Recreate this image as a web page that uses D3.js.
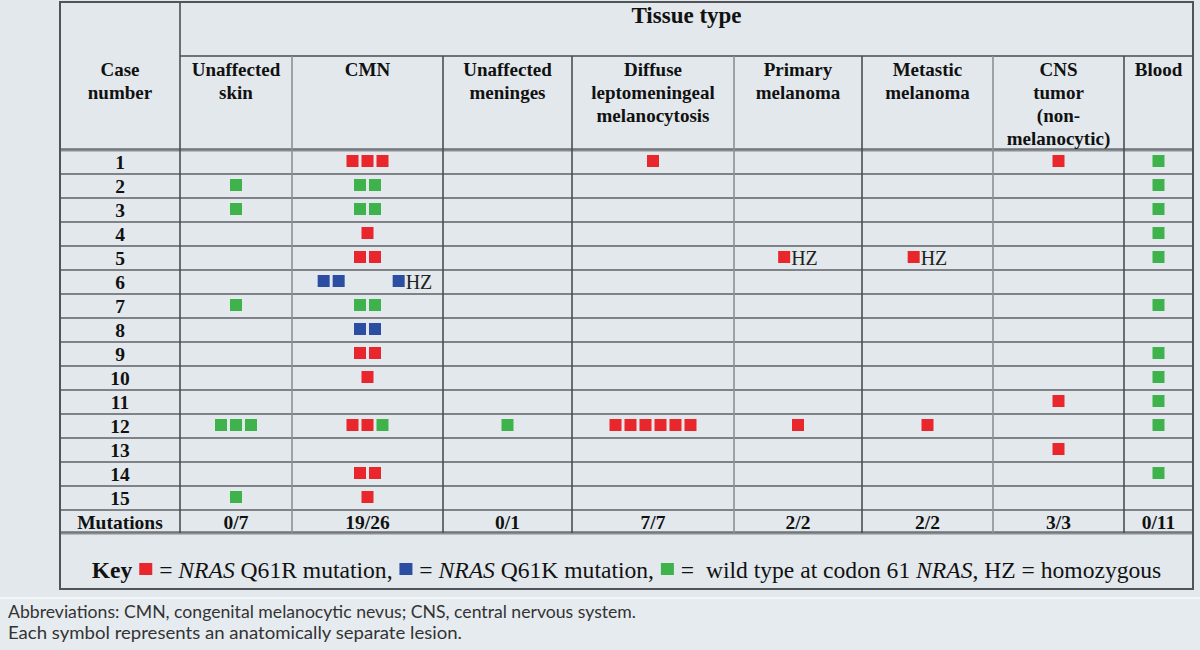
<!DOCTYPE html>
<html><head><meta charset="utf-8">
<script src="https://cdn.jsdelivr.net/npm/d3@7"></script>
<style>html,body{margin:0;padding:0;background:#e2e8ec;} svg{display:block;}</style>
</head><body><svg id="c" width="1200" height="650"></svg>
<script>
// ---------------- data ----------------
const tissueTitle = "Tissue type";
const caseHeader = ["Case", "number"];
const tissues = ["Unaffected skin", "CMN", "Unaffected meninges", "Diffuse leptomeningeal melanocytosis",
  "Primary melanoma", "Metastic melanoma", "CNS tumor (non-melanocytic)", "Blood"];
const tissueHeaderLines = [["Unaffected", "skin"], ["CMN"], ["Unaffected", "meninges"],
  ["Diffuse", "leptomeningeal", "melanocytosis"], ["Primary", "melanoma"], ["Metastic", "melanoma"],
  ["CNS", "tumor", "(non-", "melanocytic)"], ["Blood"]];
const cases = ["1","2","3","4","5","6","7","8","9","10","11","12","13","14","15"];
const mutationLabel = "Mutations";
const mutationTotals = ["0/7", "19/26", "0/1", "7/7", "2/2", "2/2", "3/3", "0/11"];
// lesion codes: R = NRAS Q61R, K = NRAS Q61K, W = wild type, _ = blank slot; last field = homozygous (HZ)
const lesions = [
  ["1", "CMN", "RRR", false], ["1", "Diffuse leptomeningeal melanocytosis", "R", false],
  ["1", "CNS tumor (non-melanocytic)", "R", false], ["1", "Blood", "W", false],
  ["2", "Unaffected skin", "W", false], ["2", "CMN", "WW", false], ["2", "Blood", "W", false],
  ["3", "Unaffected skin", "W", false], ["3", "CMN", "WW", false], ["3", "Blood", "W", false],
  ["4", "CMN", "R", false], ["4", "Blood", "W", false],
  ["5", "CMN", "RR", false], ["5", "Primary melanoma", "R", true], ["5", "Metastic melanoma", "R", true], ["5", "Blood", "W", false],
  ["6", "CMN", "_KK___K", true],
  ["7", "Unaffected skin", "W", false], ["7", "CMN", "WW", false], ["7", "Blood", "W", false],
  ["8", "CMN", "KK", false],
  ["9", "CMN", "RR", false], ["9", "Blood", "W", false],
  ["10", "CMN", "R", false], ["10", "Blood", "W", false],
  ["11", "CNS tumor (non-melanocytic)", "R", false], ["11", "Blood", "W", false],
  ["12", "Unaffected skin", "WWW", false], ["12", "CMN", "RRW", false], ["12", "Unaffected meninges", "W", false],
  ["12", "Diffuse leptomeningeal melanocytosis", "RRRRRR", false], ["12", "Primary melanoma", "R", false],
  ["12", "Metastic melanoma", "R", false], ["12", "Blood", "W", false],
  ["13", "CNS tumor (non-melanocytic)", "R", false],
  ["14", "CMN", "RR", false], ["14", "Blood", "W", false],
  ["15", "Unaffected skin", "W", false], ["15", "CMN", "R", false]
];
const hzLabel = "HZ";
const keySegments = [
  {t: "Key ", w: "bold"}, {sq: "R"}, {t: " = "}, {t: "NRAS", s: "italic"}, {t: " Q61R mutation, "},
  {sq: "K"}, {t: " = "}, {t: "NRAS", s: "italic"}, {t: " Q61K mutation, "},
  {sq: "W"}, {t: " =  wild type at codon 61 "}, {t: "NRAS", s: "italic"}, {t: ", HZ = homozygous"}
];
const footnotes = ["Abbreviations: CMN, congenital melanocytic nevus; CNS, central nervous system.",
  "Each symbol represents an anatomically separate lesion."];

// ---------------- layout ----------------
const colors = {R: "#e8262b", K: "#2b4ea3", W: "#3fb34b"};
const serif = "'Liberation Serif', 'Times New Roman', serif";
const tL = 60, tR = 1193, tT = 2, hdr1 = 56, hdr2 = 150, bodyBottom = 510, mutBottom = 533, tableBottom = 589;
const colWidths = [120, 112, 151, 129, 162, 128, 131, 131, 69];
const edges = [tL]; colWidths.forEach(w => edges.push(edges[edges.length - 1] + w));
const cols = ["case"].concat(tissues);
const xCenter = d3.scaleOrdinal().domain(cols).range(cols.map((c, i) => (edges[i] + edges[i + 1]) / 2));
const yBand = d3.scaleBand().domain(cases).range([hdr2, bodyBottom]);
const sq = 12, pitch = 15;

const svg = d3.select("#c");
svg.append("rect").attr("width", 1200).attr("height", 650).attr("fill", "#e2e8ec");
svg.append("rect").attr("x", 0).attr("y", 598).attr("width", 1200).attr("height", 52).attr("fill", "#e6ebef");
svg.append("line").attr("x1", 0).attr("x2", 1200).attr("y1", 598).attr("y2", 598).attr("stroke", "#f3f6f8").attr("stroke-width", 2);

// grid lines
const g = svg.append("g");
const hLines = cases.slice(1).map(c => yBand(c)).concat([bodyBottom]);
g.selectAll("line.h").data(hLines).join("line")
  .attr("x1", tL).attr("x2", tR).attr("y1", d => d).attr("y2", d => d)
  .attr("stroke", "#7f8387").attr("stroke-width", 2.2);
[hdr2, mutBottom].forEach(v => {
  g.append("line").attr("x1", tL).attr("x2", tR).attr("y1", v).attr("y2", v)
    .attr("stroke", "#8a8e92").attr("stroke-width", 3.2);
  g.append("line").attr("x1", tL).attr("x2", tR).attr("y1", v - 1).attr("y2", v - 1)
    .attr("stroke", "#5d6165").attr("stroke-width", 1);
});
g.append("line").attr("x1", edges[1]).attr("x2", tR).attr("y1", hdr1).attr("y2", hdr1)
  .attr("stroke", "#6f7377").attr("stroke-width", 2);
const darkEdges = [1, 3, 4, 6, 8];
edges.slice(1, -1).forEach((e, i) => {
  const idx = i + 1;
  g.append("line").attr("x1", e).attr("x2", e).attr("y1", idx === 1 ? tT : hdr1).attr("y2", mutBottom)
    .attr("stroke", darkEdges.includes(idx) ? "#4b4e52" : "#8c9094").attr("stroke-width", 1.6);
});
g.append("rect").attr("x", tL).attr("y", tT).attr("width", tR - tL).attr("height", tableBottom - tT)
  .attr("fill", "none").attr("stroke", "#505458").attr("stroke-width", 2);

// header texts
const fs = 19;
svg.append("text").attr("x", (edges[1] + tR) / 2).attr("y", 23).attr("text-anchor", "middle")
  .attr("font-family", serif).attr("font-weight", "bold").attr("font-size", 23).attr("fill", "#111").text(tissueTitle);
const headerCols = [{c: "case", lines: caseHeader}].concat(tissues.map((t, i) => ({c: t, lines: tissueHeaderLines[i]})));
headerCols.forEach(h => {
  const t = svg.append("text").attr("text-anchor", "middle").attr("font-family", serif)
    .attr("font-weight", "bold").attr("font-size", fs).attr("fill", "#111");
  h.lines.forEach((l, i) => t.append("tspan").attr("x", xCenter(h.c)).attr("y", 76 + i * 23).text(l));
});

// case numbers
svg.selectAll("text.case").data(cases).join("text").attr("class", "case")
  .attr("x", xCenter("case")).attr("y", d => yBand(d) + yBand.bandwidth() / 2 + 7)
  .attr("text-anchor", "middle").attr("font-family", serif).attr("font-weight", "bold")
  .attr("font-size", fs + 0.5).attr("fill", "#111").text(d => d);

// mutations row
const mutY = (bodyBottom + mutBottom) / 2 + 7;
svg.append("text").attr("x", xCenter("case")).attr("y", mutY).attr("text-anchor", "middle")
  .attr("font-family", serif).attr("font-weight", "bold").attr("font-size", fs + 0.5).attr("fill", "#111").text(mutationLabel);
svg.selectAll("text.mut").data(mutationTotals).join("text").attr("class", "mut")
  .attr("x", (d, i) => xCenter(tissues[i])).attr("y", mutY).attr("text-anchor", "middle")
  .attr("font-family", serif).attr("font-weight", "bold").attr("font-size", fs + 0.5).attr("fill", "#111").text(d => d);

// lesions
const hzProbe = svg.append("text").attr("font-family", serif).attr("font-size", 20).text(hzLabel);
const hzW = hzProbe.node().getComputedTextLength(); hzProbe.remove();
lesions.forEach(([c, t, marks, hz]) => {
  const n = marks.length;
  const w = n * pitch - (pitch - sq) + (hz ? 1 + hzW : 0);
  const x0 = xCenter(t) - w / 2;
  const cy = yBand(c) + yBand.bandwidth() / 2 - 1;
  const cell = svg.append("g");
  cell.selectAll("rect").data(marks.split("").map((m, i) => ({m, i})).filter(d => d.m !== "_")).join("rect")
    .attr("x", d => x0 + d.i * pitch).attr("y", cy - sq / 2).attr("width", sq).attr("height", sq)
    .attr("fill", d => colors[d.m]);
  if (hz) {
    cell.append("text").attr("x", x0 + n * pitch - (pitch - sq) + 1).attr("y", cy + 7.5)
      .attr("font-family", serif).attr("font-size", 20).attr("fill", "#222").text(hzLabel);
  }
});

// key
function layoutKey(size) {
  const kg = svg.append("g");
  let x = 0;
  keySegments.forEach(s => {
    if (s.sq) {
      kg.append("rect").attr("x", x + 1).attr("y", -15).attr("width", 13).attr("height", 12).attr("fill", colors[s.sq]);
      x += 15;
    } else {
      const t = kg.append("text").attr("x", x).attr("y", 0).attr("font-family", serif)
        .attr("font-size", size).attr("font-weight", s.w || "normal").attr("font-style", s.s || "normal")
        .attr("fill", "#111").style("white-space", "pre").text(s.t);
      x += t.node().getComputedTextLength();
    }
  });
  return {kg, x};
}
let k = layoutKey(21);
const target = 1070;
const size2 = 21 * (target - 45) / (k.x - 45);
k.kg.remove();
k = layoutKey(size2);
k.kg.attr("transform", `translate(${(tL + tR) / 2 - k.x / 2},578)`);

// footnotes
const fnEnds = [628, 454];
footnotes.forEach((f, i) => {
  svg.append("text").attr("x", 8).attr("y", 618 + i * 21).attr("font-family", "Lato, 'Open Sans', sans-serif")
    .attr("font-size", 17).attr("fill", "#333").attr("textLength", fnEnds[i]).attr("lengthAdjust", "spacingAndGlyphs").text(f);
});
</script></body></html>
